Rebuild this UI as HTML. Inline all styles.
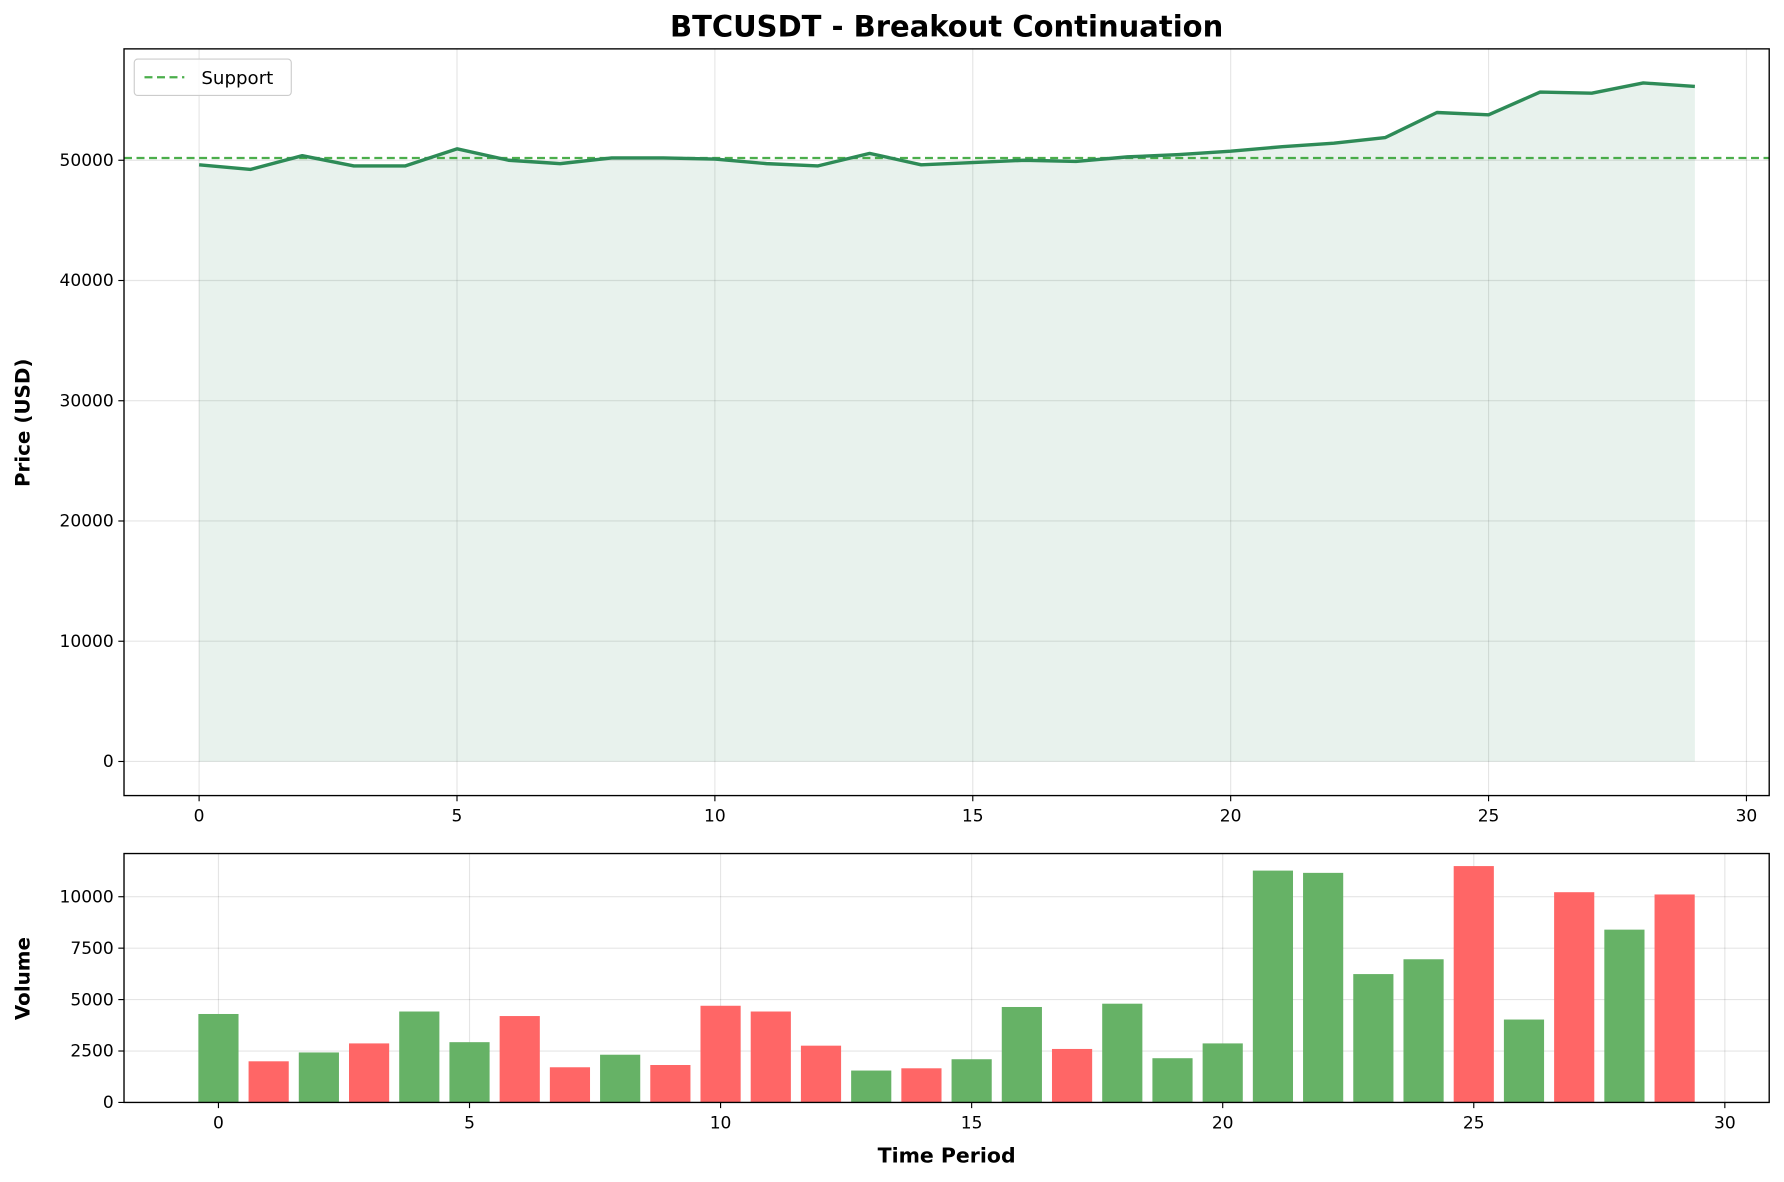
<!DOCTYPE html>
<html><head><meta charset="utf-8"><style>
html,body{margin:0;padding:0;background:#fff;}
svg{display:block;width:1784px;height:1182px;font-family:"DejaVu Sans","Liberation Sans",sans-serif;}
</style></head><body>
<svg id="chart" viewBox="0 0 1568 1040" preserveAspectRatio="none" xmlns="http://www.w3.org/2000/svg"></svg>
<script>
const periods = [0,1,2,3,4,5,6,7,8,9,10,11,12,13,14,15,16,17,18,19,20,21,22,23,24,25,26,27,28,29];
const prices = [49620,49240,50380,49530,49530,50950,50000,49720,50190,50190,50100,49720,49530,50570,49620,49810,50000,49900,50280,50470,50750,51130,51420,51890,53970,53780,55670,55580,56430,56140];
const volumes = [4300,2000,2430,2870,4420,2930,4200,1710,2320,1820,4700,4420,2760,1550,1660,2100,4640,2600,4800,2150,2870,11270,11160,6240,6960,11490,4030,10220,8400,10110];
const volumeUp = [1,0,1,0,1,1,0,0,1,0,0,0,0,1,0,1,1,0,1,1,1,1,1,1,1,0,1,0,1,0];
const supportLevel = 50190;
const xTicks = [0,5,10,15,20,25,30];
const priceTicks = [0,10000,20000,30000,40000,50000];
const volumeTicks = [0,2500,5000,7500,10000];

const NS="http://www.w3.org/2000/svg";
const svg=document.getElementById('chart');
function el(tag,attrs,parent){const e=document.createElementNS(NS,tag);for(const k in attrs)e.setAttribute(k,attrs[k]);(parent||svg).appendChild(e);return e;}
const T={l:109,r:1555,t:43,b:700};
const px=v=>175+(v)*(1535-175)/30;
const py=v=>670-v*(670-141)/50000;
const B={l:109,r:1555,t:751,b:970};
const bx=v=>192+v*(1516-192)/30;
const by=v=>970-v*(970-789)/10000;

let t=el('text',{x:832,y:32,'text-anchor':'middle','font-size':25.5,'font-weight':'bold',fill:'#000'});
t.textContent='BTCUSDT - Breakout Continuation';

const gTop=el('g',{});

xTicks.forEach(v=>{el('line',{x1:px(v),x2:px(v),y1:T.t,y2:T.b,stroke:'#000','stroke-opacity':0.1,'stroke-width':1},gTop);});
priceTicks.forEach(v=>{el('line',{x1:T.l,x2:T.r,y1:py(v),y2:py(v),stroke:'#000','stroke-opacity':0.1,'stroke-width':1},gTop);});

let d='M'+px(periods[0])+','+py(0);
periods.forEach((p,i)=>{d+=' L'+px(p)+','+py(prices[i]);});
d+=' L'+px(periods[periods.length-1])+','+py(0)+' Z';
let area=el('path',{d:d,fill:'#2e8b57','fill-opacity':0.11,stroke:'none'});


let sup=el('line',{x1:T.l,x2:T.r,y1:py(supportLevel),y2:py(supportLevel),stroke:'#2ca02c','stroke-opacity':0.85,'stroke-width':2,'stroke-dasharray':'7,4'});


let pl=el('polyline',{points:periods.map((p,i)=>px(p)+','+py(prices[i])).join(' '),fill:'none',stroke:'#2e8b57','stroke-width':3,'stroke-linejoin':'round'});


let f1=el('rect',{x:T.l,y:T.t,width:T.r-T.l,height:T.b-T.t,fill:'none',stroke:'#000','stroke-width':1.2});


xTicks.forEach(v=>{el('line',{x1:px(v),x2:px(v),y1:T.b,y2:T.b+5,stroke:'#000'});
  let tx=el('text',{x:px(v),y:T.b+23,'text-anchor':'middle','font-size':15});
  tx.textContent=v;});
priceTicks.forEach(v=>{el('line',{x1:T.l-5,x2:T.l,y1:py(v),y2:py(v),stroke:'#000'});
  let tx=el('text',{x:T.l-9,y:py(v)+5,'text-anchor':'end','font-size':15});
  tx.textContent=v;});
let yl=el('text',{x:0,y:0,transform:'translate(26,372) rotate(-90)','text-anchor':'middle','font-size':17.5,'font-weight':'bold'});
yl.textContent='Price (USD)';

const lg=el('g',{});

el('rect',{x:118,y:52,width:138,height:32,rx:3,fill:'#fff','fill-opacity':0.8,stroke:'#ccc'},lg);
el('line',{x1:127,x2:162,y1:68,y2:68,stroke:'#2ca02c','stroke-opacity':0.85,'stroke-width':2,'stroke-dasharray':'7,4'},lg);
let lt=el('text',{x:177,y:74,'font-size':16},lg);
lt.textContent='Support';

const gB=el('g',{});

xTicks.forEach(v=>{el('line',{x1:bx(v),x2:bx(v),y1:B.t,y2:B.b,stroke:'#000','stroke-opacity':0.1},gB);});
volumeTicks.forEach(v=>{el('line',{x1:B.l,x2:B.r,y1:by(v),y2:by(v),stroke:'#000','stroke-opacity':0.1},gB);});

const bw=(bx(1)-bx(0))*0.8;
periods.forEach((p,i)=>{
  let r=el('rect',{x:bx(p)-bw/2,y:by(volumes[i]),width:bw,height:by(0)-by(volumes[i]),fill:volumeUp[i]?'#66b266':'#ff6666'});
  
  
});

let f2=el('rect',{x:B.l,y:B.t,width:B.r-B.l,height:B.b-B.t,fill:'none',stroke:'#000','stroke-width':1.2});


xTicks.forEach(v=>{el('line',{x1:bx(v),x2:bx(v),y1:B.b,y2:B.b+5,stroke:'#000'});
  let tx=el('text',{x:bx(v),y:B.b+23,'text-anchor':'middle','font-size':15});
  tx.textContent=v;});
volumeTicks.forEach(v=>{el('line',{x1:B.l-5,x2:B.l,y1:by(v),y2:by(v),stroke:'#000'});
  let tx=el('text',{x:B.l-9,y:by(v)+5,'text-anchor':'end','font-size':15});
  tx.textContent=v;});
let vl=el('text',{x:0,y:0,transform:'translate(26,861) rotate(-90)','text-anchor':'middle','font-size':17.5,'font-weight':'bold'});
vl.textContent='Volume';
let xl=el('text',{x:832,y:1023,'text-anchor':'middle','font-size':18,'font-weight':'bold'});
xl.textContent='Time Period';
</script>
</body></html>
